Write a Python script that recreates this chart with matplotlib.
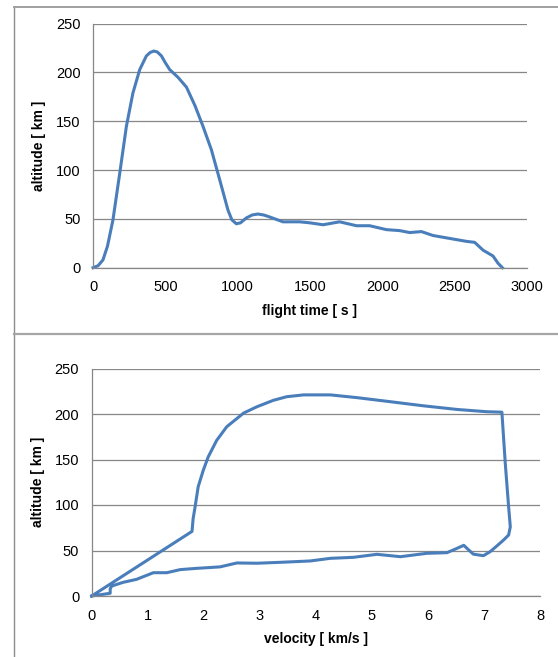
import matplotlib
matplotlib.use("Agg")
import matplotlib.pyplot as plt
from matplotlib.lines import Line2D

plt.rcParams['font.family'] = ['Liberation Sans', 'DejaVu Sans']

# flight time [s] vs altitude [km]
flight_time = [0, 35, 69, 100, 138, 185, 231, 276, 323, 369, 395, 420, 445,
               473, 500, 530, 588, 646, 705, 760, 818, 876, 933, 960, 991,
               1020, 1060, 1100, 1140, 1180, 1221, 1313, 1428,
               1497, 1590, 1705, 1821, 1912, 2028, 2120, 2189, 2270, 2350,
               2465, 2581, 2638, 2696, 2765, 2800, 2830]
altitude_t = [0, 2, 8, 22, 49, 97, 145, 179, 203, 217, 220.5, 222, 221,
              217, 210, 203, 195, 185, 166, 145, 121, 90, 59, 49, 45,
              46, 51, 54, 55, 54, 52, 47, 47,
              46, 44, 47, 43, 43, 39, 38, 36, 37, 33,
              30, 27, 26, 18, 12, 4.5, 0]

# velocity [km/s] vs altitude [km]
velocity = [0, 1.79, 1.81, 1.845, 1.90, 1.99, 2.08, 2.23, 2.41, 2.71, 2.95, 3.24,
            3.48, 3.78, 4.26, 4.73, 5.33, 5.92, 6.52, 7.05, 7.32,
            7.38, 7.44, 7.47, 7.44, 7.35, 7.23, 7.11, 6.99, 6.81, 6.72,
            6.64, 6.52, 6.34, 5.98, 5.51, 5.09, 4.67, 4.26, 3.90, 3.36,
            2.95, 2.59, 2.29, 1.875, 1.58, 1.34, 1.10, 0.80, 0.56, 0.36,
            0.33, 0.33, 0]
altitude_v = [0, 71, 85, 98, 120, 138, 153, 171, 186, 201, 208, 215,
              219, 221, 221, 218, 213.5, 209, 205, 202.5, 202,
              146, 98, 76, 67, 61.5, 55, 48.7, 44.3, 46, 51,
              55.7, 52.4, 47.6, 46.9, 43.2, 45.8, 42.5, 41.4, 38.5, 37,
              36, 36.3, 32, 30.4, 29, 25.6, 25.6, 18.3, 15, 11,
              8, 3, 0]

LINE_COLOR = '#4a7ebb'
GRID_COLOR = '#878787'
W, H = 558, 657


def style_axes(ax, xmax, xstep, xlabel):
    ax.set_xlim(0, xmax)
    ax.set_ylim(0, 250)
    ax.set_xticks(range(0, xmax + 1, xstep))
    ax.set_yticks(range(0, 251, 50))
    ax.yaxis.grid(True, color=GRID_COLOR, linewidth=0.9)
    ax.set_axisbelow(True)
    for side in ('top', 'right'):
        ax.spines[side].set_visible(False)
    for side in ('left', 'bottom'):
        ax.spines[side].set_color(GRID_COLOR)
        ax.spines[side].set_linewidth(0.9)
    ax.tick_params(length=0, labelsize=10.5, pad=9)
    ax.tick_params(axis='y', pad=9)
    ax.set_xlabel(xlabel, fontsize=10, fontweight='bold', labelpad=7)
    ax.set_ylabel('altitude [ km ]', fontsize=10, fontweight='bold', labelpad=7)


fig = plt.figure(figsize=(W / 100, H / 100), dpi=100)

ax1 = fig.add_axes([93 / W, (H - 267.7) / H, (527 - 93) / W, (267.7 - 23.7) / H])
ax1.plot(flight_time, altitude_t, color=LINE_COLOR, linewidth=2.2,
         solid_joinstyle='round', clip_on=False)
style_axes(ax1, 3000, 500, 'flight time [ s ]')

ax2 = fig.add_axes([91.7 / W, (H - 596) / H, (540 - 91.7) / W, (596 - 368.5) / H])
ax2.plot(velocity, altitude_v, color=LINE_COLOR, linewidth=2.2,
         solid_joinstyle='round', clip_on=False)
style_axes(ax2, 8, 1, 'velocity [ km/s ]')

# frame lines of the document page
fig.add_artist(Line2D([14 / W, 14 / W], [0, (H - 6.5) / H], color='#8c8c8c', linewidth=1.0))
fig.add_artist(Line2D([14 / W, 1], [(H - 6.5) / H, (H - 6.5) / H], color='#a0a0a0', linewidth=1.4))
fig.add_artist(Line2D([14 / W, 1], [(H - 334) / H, (H - 334) / H], color='#a6a6a6', linewidth=1.6))

fig.savefig('out.png', dpi=100)
